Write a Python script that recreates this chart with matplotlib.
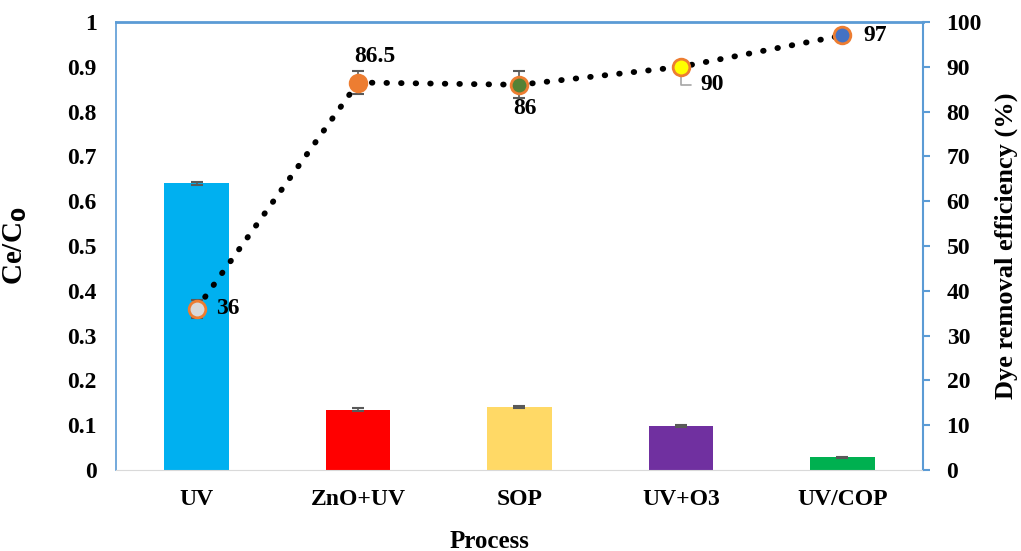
import numpy as np
import matplotlib
matplotlib.use("Agg")
import matplotlib.pyplot as plt

plt.rcParams['font.family'] = ['Liberation Serif', 'DejaVu Serif']
plt.rcParams['font.weight'] = 'bold'

# du lieu
process = ["UV", "ZnO+UV", "SOP", "UV+O3", "UV/COP"]
ce_c0 = [0.64, 0.135, 0.14, 0.098, 0.028]
ce_err = [0.004, 0.004, 0.002, 0.002, 0.002]
removal = [36, 86.5, 86, 90, 97]
removal_err = [2.0, 2.5, 3.0, 1.0, 0.5]

bar_colors = ["#00B0F0", "#FF0000", "#FFD966", "#7030A0", "#00B050"]
marker_fill = ["#D9D9D9", "#ED7D31", "#548235", "#FFFF00", "#4472C4"]

fig, ax1 = plt.subplots(figsize=(10.21, 5.51), dpi=100)
fig.subplots_adjust(left=0.1136, right=0.904, top=0.96, bottom=0.147)

x = np.arange(len(process))
ax1.bar(x, ce_c0, width=0.4, color=bar_colors, zorder=2)
ax1.errorbar(x, ce_c0, yerr=ce_err, fmt='none', ecolor='#595959', capsize=4, elinewidth=1.2, capthick=1.5, zorder=3)
ax1.set_xlim(-0.5, 4.5)
ax1.set_ylim(0, 1)
ax1.set_yticks(np.arange(0, 1.01, 0.1))
ax1.set_yticklabels(["0"] + [f"{v:.1f}" for v in np.arange(0.1, 0.95, 0.1)] + ["1"])
ax1.set_xticks(x)
ax1.set_xticklabels(process)
ax1.tick_params(axis='y', length=0, pad=14, labelsize=17)
ax1.tick_params(axis='x', length=0, pad=14, labelsize=17)
ax1.set_xlabel("Process", fontsize=18, fontweight='bold')
ax1.xaxis.set_label_coords(0.463, -0.134)
ax1.set_ylabel("Ce/C$_\\mathbf{0}$", fontsize=21, fontweight='bold')
ax1.yaxis.set_label_coords(-0.108, 0.5)
for s in ['left', 'top', 'right']:
    ax1.spines[s].set_color('#5B9BD5')
ax1.spines['bottom'].set_color('#D9D9D9')
ax1.spines['left'].set_linewidth(1.2)
ax1.spines['top'].set_linewidth(2)
ax1.spines['right'].set_linewidth(1.5)

ax2 = ax1.twinx()
ax2.plot(x, removal, linestyle=(0, (0.1, 2.4)), color='black', linewidth=4.2, dash_capstyle='round', zorder=3)
ax2.errorbar(x, removal, yerr=removal_err, fmt='none', ecolor='#595959', capsize=4, elinewidth=1.2, capthick=1.5, zorder=4)
for i in range(len(x)):
    ax2.plot(x[i], removal[i], 'o', markersize=12, markerfacecolor=marker_fill[i],
             markeredgecolor='#ED7D31', markeredgewidth=2, zorder=5)
ax2.set_ylim(0, 100)
ax2.set_yticks(np.arange(0, 101, 10))
ax2.tick_params(axis='y', length=5, color='#5B9BD5', width=1.5, labelsize=17, pad=12)
ax2.set_ylabel("Dye removal efficiency (%)", fontsize=19, fontweight='bold')
ax2.yaxis.set_label_coords(1.089, 0.5)
for s in ['left', 'top', 'right', 'bottom']:
    ax2.spines[s].set_visible(False)

# nhan gia tri
fs = 17
ax2.annotate("36", (x[0], removal[0]), xytext=(14, 0), textcoords='offset points', ha='left', va='center', fontsize=fs, fontweight='bold')
ax2.annotate("86.5", (x[1], removal[1]), xytext=(12, 19), textcoords='offset points', ha='center', va='center', fontsize=fs, fontweight='bold')
ax2.annotate("86", (x[2], removal[2]), xytext=(4, -17), textcoords='offset points', ha='center', va='center', fontsize=fs, fontweight='bold')
ax2.annotate("90", (x[3], removal[3]), xytext=(14, -13), textcoords='offset points', ha='left', va='center', fontsize=fs, fontweight='bold',
             arrowprops=dict(arrowstyle='-', color='#A6A6A6', lw=1.2, connectionstyle='angle,angleA=0,angleB=90,rad=0', shrinkA=5, shrinkB=4))
ax2.annotate("97", (x[4], removal[4]), xytext=(15, 0), textcoords='offset points', ha='left', va='center', fontsize=fs, fontweight='bold')

plt.savefig("out.png", dpi=100)
